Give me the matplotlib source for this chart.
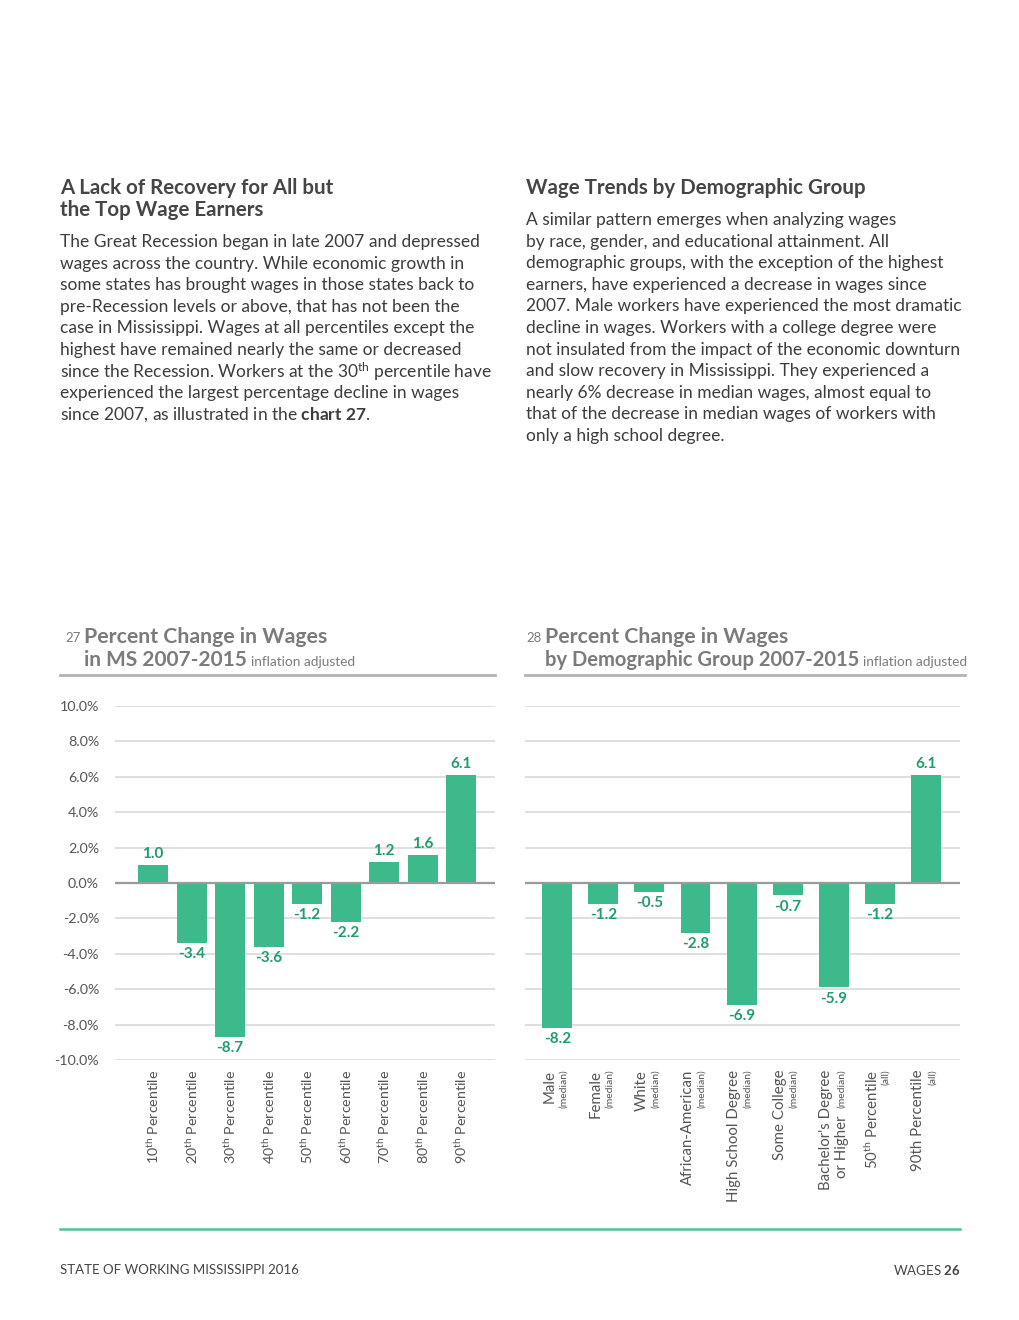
import matplotlib
matplotlib.use("Agg")
import matplotlib.pyplot as plt

plt.rcParams['font.family'] = ['Lato', 'DejaVu Sans']
plt.rcParams['mathtext.fontset'] = 'custom'
plt.rcParams['mathtext.rm'] = 'Lato'
plt.rcParams['mathtext.it'] = 'Lato'
plt.rcParams['mathtext.bf'] = 'Lato:bold'

# data chart 27
pct_labels = ["10$^{th}$ Percentile", "20$^{th}$ Percentile", "30$^{th}$ Percentile",
              "40$^{th}$ Percentile", "50$^{th}$ Percentile", "60$^{th}$ Percentile",
              "70$^{th}$ Percentile", "80$^{th}$ Percentile", "90$^{th}$ Percentile"]
pct_values = [1.0, -3.4, -8.7, -3.6, -1.2, -2.2, 1.2, 1.6, 6.1]

# data chart 28
demo_labels = ["Male", "Female", "White", "African-American", "High School Degree",
               "Some College", "Bachelor's Degree", "50$^{th}$ Percentile", "90th Percentile"]
demo_sub = ["(median)", "(median)", "(median)", "(median)", "(median)",
            "(median)", "or Higher", "(all)", "(all)"]
demo_values = [-8.2, -1.2, -0.5, -2.8, -6.9, -0.7, -5.9, -1.2, 6.1]

y_ticks = [-10, -8, -6, -4, -2, 0, 2, 4, 6, 8, 10]

GREEN = "#3cba8b"
DKGREEN = "#1f9d6b"
GRID = "#d9d9d9"
TITLE = "#7b7b7b"
TEXT = "#3c3c3c"
LABEL = "#555555"

W, H = 1020, 1320
fig = plt.figure(figsize=(W / 100, H / 100), dpi=100)


def px(x, y):
    return x / W, 1 - y / H


# ---- text columns ----
left_head = ["A Lack of Recovery for All but", "the Top Wage Earners"]
left_body = [
    "The Great Recession began in late 2007 and depressed",
    "wages across the country. While economic growth in",
    "some states has brought wages in those states back to",
    "pre-Recession levels or above, that has not been the",
    "case in Mississippi. Wages at all percentiles except the",
    "highest have remained nearly the same or decreased",
    "since the Recession. Workers at the 30$^{th}$ percentile have",
    "experienced the largest percentage decline in wages",
    "since 2007, as illustrated in the $\\mathbf{chart\\ 27}$.",
]
right_head = ["Wage Trends by Demographic Group"]
right_body = [
    "A similar pattern emerges when analyzing wages",
    "by race, gender, and educational attainment. All",
    "demographic groups, with the exception of the highest",
    "earners, have experienced a decrease in wages since",
    "2007. Male workers have experienced the most dramatic",
    "decline in wages. Workers with a college degree were",
    "not insulated from the impact of the economic downturn",
    "and slow recovery in Mississippi. They experienced a",
    "nearly 6% decrease in median wages, almost equal to",
    "that of the decrease in median wages of workers with",
    "only a high school degree.",
]

for i, line in enumerate(left_head):
    fig.text(*px(60, 188 + i * 22), line, fontsize=14.8, fontweight='bold',
             color="#454545", va='center')
for i, line in enumerate(left_body):
    fig.text(*px(60, 242 + i * 21.6), line, fontsize=12.55, color=TEXT, va='center')

for i, line in enumerate(right_head):
    fig.text(*px(526, 188 + i * 22), line, fontsize=14.8, fontweight='bold',
             color="#454545", va='center')
for i, line in enumerate(right_body):
    fig.text(*px(526, 220 + i * 21.6), line, fontsize=12.55, color=TEXT, va='center')

# ---- chart titles ----
fig.text(*px(65, 638), "27", fontsize=9.5, color=TITLE, va='center')
fig.text(*px(84, 637), "Percent Change in Wages", fontsize=15.3, fontweight='bold',
         color=TITLE, va='center')
t1 = fig.text(*px(84, 660), "in MS 2007-2015", fontsize=15, fontweight='bold',
              color=TITLE, va='center')
fig.add_artist(plt.Line2D([60 / W, 495 / W], [1 - 675 / H] * 2, color="#b3b3b3", lw=2))

fig.text(*px(526, 638), "28", fontsize=9.5, color=TITLE, va='center')
fig.text(*px(545, 637), "Percent Change in Wages", fontsize=15.3, fontweight='bold',
         color=TITLE, va='center')
t2 = fig.text(*px(545, 660), "by Demographic Group 2007-2015", fontsize=14.5,
              fontweight='bold', color=TITLE, va='center')
fig.add_artist(plt.Line2D([525 / W, 965 / W], [1 - 675 / H] * 2, color="#b3b3b3", lw=2))

# "inflation adjusted" goes right after the bold line
fig.canvas.draw()
r = fig.canvas.get_renderer()
for t in (t1, t2):
    bb = t.get_window_extent(renderer=r)
    fig.text((bb.x1 + 4) / W, 1 - 662 / H, "inflation adjusted", fontsize=9.8,
             color=TITLE, va='center')


def setup_axes(ax, show_labels):
    ax.set_ylim(-10, 10)
    ax.set_yticks(y_ticks)
    for v in y_ticks:
        if v == 0:
            ax.axhline(v, color="#9a9a9a", lw=1.6, zorder=3)
        else:
            ax.axhline(v, color=GRID, lw=1.2, zorder=0)
    for s in ax.spines.values():
        s.set_visible(False)
    ax.tick_params(axis='y', length=0, pad=11.5, labelsize=10.3, labelcolor=LABEL)
    if show_labels:
        ax.set_yticklabels([f"{v:.1f}%" for v in y_ticks])
    else:
        ax.set_yticklabels([])


def bar_labels(ax, xs, vals):
    for x, v in zip(xs, vals):
        off = 3 if v > 0 else -3
        ax.annotate(f"{v:.1f}", (x, v), xytext=(0, off), textcoords='offset points',
                    ha='center', va='bottom' if v > 0 else 'top',
                    fontsize=11, fontweight='bold', color=DKGREEN)


# ---- chart 27 ----
ax1 = fig.add_axes([115 / W, 1 - 1060 / H, 380 / W, 354 / H])
x1 = list(range(len(pct_values)))
ax1.bar(x1, pct_values, width=0.78, color=GREEN, zorder=2)
ax1.set_xlim(-0.99, 8.88)
setup_axes(ax1, True)
ax1.set_xticks(x1)
ax1.set_xticklabels(pct_labels, rotation=90, fontsize=10.3, color=LABEL)
ax1.tick_params(axis='x', length=0, pad=7)
bar_labels(ax1, x1, pct_values)

# ---- chart 28 ----
ax2 = fig.add_axes([525 / W, 1 - 1060 / H, 435 / W, 354 / H])
x2 = list(range(len(demo_values)))
ax2.bar(x2, demo_values, width=0.65, color=GREEN, zorder=2)
ax2.set_xlim(-0.7, 8.74)
setup_axes(ax2, False)
ax2.set_xticks([])
bar_labels(ax2, x2, demo_values)

tr = ax2.get_xaxis_transform()
for x, main, sub in zip(x2, demo_labels, demo_sub):
    ax2.annotate(main, (x, 0), xycoords=tr, xytext=(-5.5, -7), textcoords='offset points',
                 rotation=90, ha='center', va='top', fontsize=10.8, color=LABEL)
    if sub == "or Higher":
        ax2.annotate(sub, (x, 0), xycoords=tr, xytext=(6, -40), textcoords='offset points',
                     rotation=90, ha='center', va='top', fontsize=10.8, color=LABEL)
        ax2.annotate("(median)", (x, 0), xycoords=tr, xytext=(6, -7),
                     textcoords='offset points', rotation=90, ha='center', va='top',
                     fontsize=7.5, color=LABEL)
    else:
        ax2.annotate(sub, (x, 0), xycoords=tr, xytext=(4.5, -7), textcoords='offset points',
                     rotation=90, ha='center', va='top', fontsize=7.5, color=LABEL)

# ---- footer ----
fig.add_artist(plt.Line2D([60 / W, 960 / W], [1 - 1229 / H] * 2, color="#4fc29a", lw=1.8))
fig.text(*px(60, 1270), "STATE OF WORKING MISSISSIPPI 2016", fontsize=9.5,
         color="#444444", va='center')
fig.text(*px(960, 1270), "WAGES $\\mathbf{26}$", fontsize=9.5, color="#444444",
         va='center', ha='right')

fig.savefig("out.png", dpi=100, facecolor='white')
